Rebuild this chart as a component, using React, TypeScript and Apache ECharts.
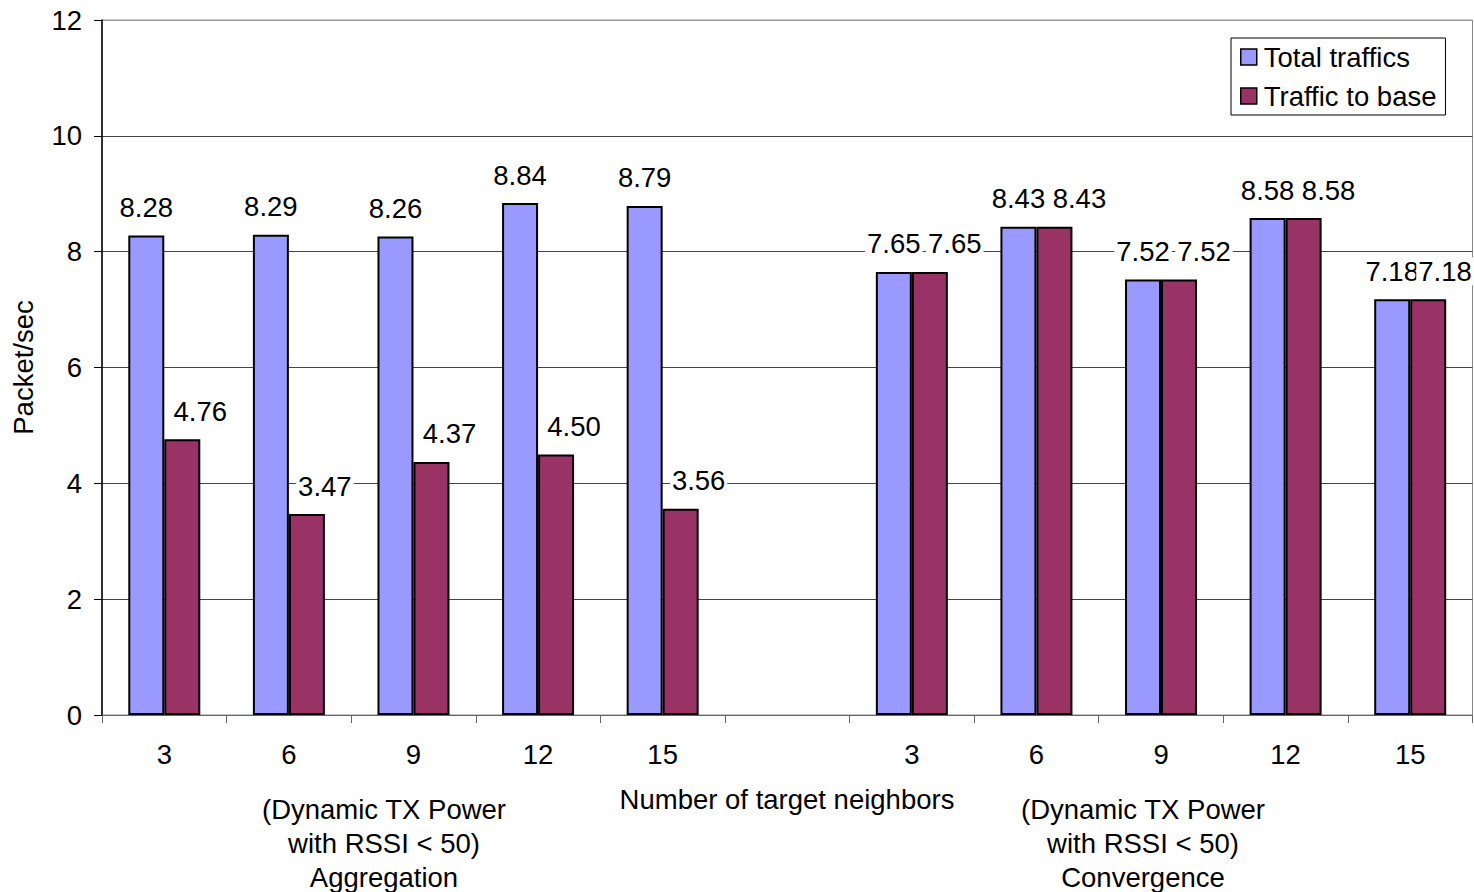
import React, { useEffect, useRef } from "react";
import * as echarts from "echarts";

const categories = ["3", "6", "9", "12", "15", "", "3", "6", "9", "12", "15"];
const totalTraffics = [8.28, 8.29, 8.26, 8.84, 8.79, null, 7.65, 8.43, 7.52, 8.58, 7.18];
const trafficToBase = [4.76, 3.47, 4.37, 4.5, 3.56, null, 7.65, 8.43, 7.52, 8.58, 7.18];
const yTicks = [0, 2, 4, 6, 8, 10, 12];
const seriesNames = ["Total traffics", "Traffic to base"];
const xTitle = "Number of target neighbors";
const yTitle = "Packet/sec";
const groupNotes = [
  "(Dynamic TX Power\nwith RSSI < 50)\nAggregation",
  "(Dynamic TX Power\nwith RSSI < 50)\nConvergence",
];

const FONT = "'Liberation Sans', Arial, sans-serif";
const FS = 27.5;
const CHART_W = 1474;
const BAR_W = 36;

export default function App() {
  const ref = useRef<HTMLDivElement>(null);
  useEffect(() => {
    if (!ref.current) return;
    const chart = echarts.init(ref.current, null, { renderer: "svg" });
    const labelBase = {
      show: true,
      position: "top",
      distance: 14,
      color: "#000",
      fontSize: FS,
      fontFamily: FONT,
      backgroundColor: "#fff",
      padding: [0, 2],
      formatter: (p: any) => Number(p.value).toFixed(2),
    };
    const noteStyle = {
      fontSize: FS,
      lineHeight: 34,
      fontFamily: FONT,
      fill: "#000",
      align: "center",
      verticalAlign: "middle",
    };
    chart.setOption({
      animation: false,
      backgroundColor: "#fff",
      textStyle: { fontFamily: FONT },
      grid: {
        left: 102,
        right: 1.5,
        top: 20,
        bottom: 177,
        containLabel: false,
        outerBoundsMode: "none",
        show: true,
        borderColor: "#888",
        borderWidth: 1,
        backgroundColor: "transparent",
      },
      legend: {
        orient: "vertical",
        left: 1231,
        top: 38,
        backgroundColor: "#fff",
        borderColor: "#000",
        borderWidth: 1,
        padding: [4, 9, 4, 9],
        itemWidth: 16,
        itemHeight: 16,
        itemGap: 9,
        icon: "rect",
        itemStyle: { borderColor: "#000", borderWidth: 1.5 },
        textStyle: { fontSize: FS, fontFamily: FONT, color: "#000", lineHeight: 30, padding: [0, 0, 0, 2] },
        data: seriesNames,
      },
      xAxis: {
        type: "category",
        data: categories,
        boundaryGap: true,
        axisLine: { lineStyle: { color: "#666", width: 1 } },
        axisTick: { show: true, length: 8, lineStyle: { color: "#666" } },
        axisLabel: { fontSize: FS, fontFamily: FONT, color: "#000", margin: 25 },
      },
      yAxis: {
        type: "value",
        min: 0,
        max: yTicks[yTicks.length - 1],
        interval: 2,
        name: yTitle,
        nameLocation: "middle",
        nameGap: 65,
        nameTextStyle: { fontSize: FS, fontFamily: FONT, color: "#000" },
        axisLine: { show: true, lineStyle: { color: "#000", width: 1.5 } },
        axisTick: { show: true, length: 8, lineStyle: { color: "#000" } },
        axisLabel: { fontSize: FS, fontFamily: FONT, color: "#000", margin: 20 },
        splitLine: {
          lineStyle: { color: ["#444", "#444", "#444", "#444", "#444", "#444", "#999"], width: 1 },
        },
      },
      series: [
        {
          name: seriesNames[0],
          type: "bar",
          data: totalTraffics,
          barWidth: BAR_W,
          barGap: "0%",
          itemStyle: { color: "#9999FF", borderColor: "#000", borderWidth: 2 },
          label: { ...labelBase },
        },
        {
          name: seriesNames[1],
          type: "bar",
          data: trafficToBase,
          barWidth: BAR_W,
          barGap: "0%",
          itemStyle: { color: "#993366", borderColor: "#000", borderWidth: 2 },
          label: { ...labelBase, offset: [18, 0] },
        },
      ],
      graphic: [
        { type: "text", x: 787, y: 799, style: { ...noteStyle, text: xTitle } },
        { type: "text", x: 384, y: 843, style: { ...noteStyle, text: groupNotes[0] } },
        { type: "text", x: 1143, y: 843, style: { ...noteStyle, text: groupNotes[1] } },
      ],
    });

    // shift the second group's "Traffic to base" labels right of the neighbouring label,
    // keeping them inside the chart's right edge
    const gapIndex = categories.indexOf("");
    const halfLabel = 28;
    const baseData = trafficToBase.map((v, i) => {
      if (v == null) return v;
      const want = i > gapIndex ? 25 : 18;
      const catX = chart.convertToPixel({ xAxisIndex: 0 }, i) as number;
      const barCenter = catX + BAR_W / 2;
      const maxOff = CHART_W - 1 - halfLabel - barCenter;
      return { value: v, label: { offset: [Math.min(want, maxOff), 0] } };
    });
    chart.setOption({ series: [{}, { data: baseData }] });
    return () => chart.dispose();
  }, []);
  return (
    <div
      ref={ref}
      style={{ position: "absolute", left: 0, top: 0, width: CHART_W, height: 892 }}
    />
  );
}
